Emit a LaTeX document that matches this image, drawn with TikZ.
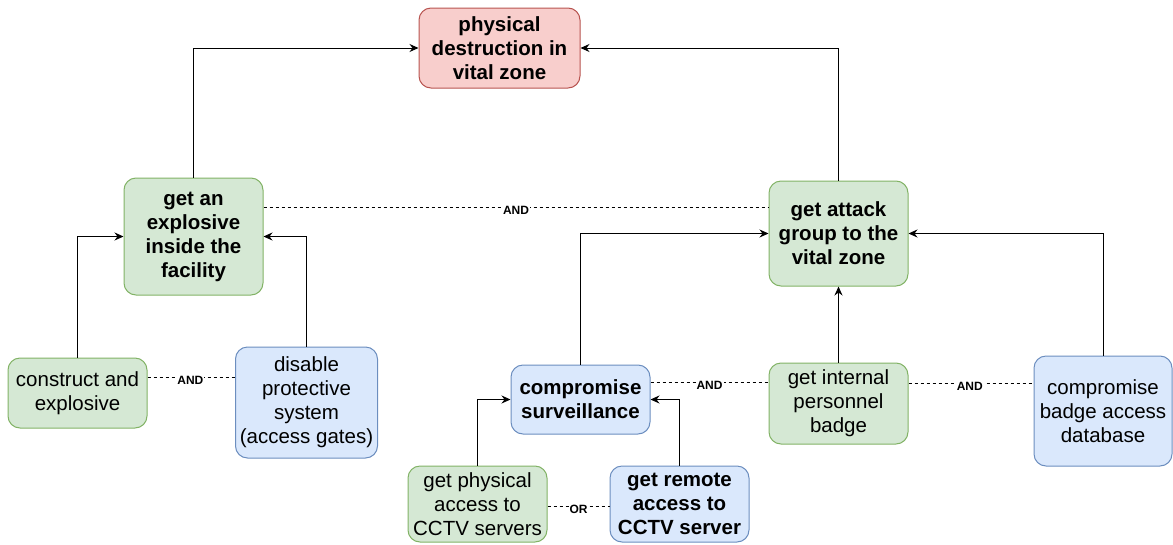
\documentclass[tikz,border=0pt]{standalone}
\usepackage{fontspec}
\setmainfont{Liberation Sans}
\usetikzlibrary{arrows.meta,calc}
\definecolor{gfill}{HTML}{D5E8D4}
\definecolor{gline}{HTML}{82B366}
\definecolor{bfill}{HTML}{DAE8FC}
\definecolor{bline}{HTML}{6C8EBF}
\definecolor{rfill}{HTML}{F8CECC}
\definecolor{rline}{HTML}{B85450}
\tikzset{
  box/.style={draw, line width=1pt, rounded corners=12pt, align=center, inner sep=0pt,
    font=\fontsize{20.5}{24}\selectfont},
  gbox/.style={box, fill=gfill, draw=gline},
  bluebox/.style={box, fill=bfill, draw=bline},
  redbox/.style={box, fill=rfill, draw=rline},
  arr/.style={line width=1pt, -{Stealth[length=9pt,width=8pt,inset=3pt]}},
  dline/.style={line width=1pt, dash pattern=on 3pt off 3pt},
  lbl/.style={fill=white, inner sep=1pt, font=\fontsize{12}{14}\selectfont\bfseries, yshift=-3pt}
}
\begin{document}
\begin{tikzpicture}[x=1pt,y=-1pt]
\useasboundingbox (0,0) rectangle (1173,544);
\node[redbox, minimum width=161pt, minimum height=80pt] (top) at (499.5,48) {\bfseries physical\\\bfseries destruction in\\\bfseries vital zone};
\node[gbox, minimum width=139pt, minimum height=117pt] (expl) at (193.5,236.5) {\bfseries get an\\\bfseries explosive\\\bfseries inside the\\\bfseries facility};
\node[gbox, minimum width=139pt, minimum height=105pt] (attack) at (838.5,233.5) {\bfseries get attack\\\bfseries group to the\\\bfseries vital zone};
\node[gbox, minimum width=139pt, minimum height=70pt] (constr) at (77.5,393) {construct and\\explosive};
\node[bluebox, minimum width=142pt, minimum height=111pt] (disable) at (306.5,402.5) {disable\\protective\\system\\(access gates)};
\node[bluebox, minimum width=139pt, minimum height=69pt] (surv) at (580.5,399.5) {\bfseries compromise\\\bfseries surveillance};
\node[gbox, minimum width=139pt, minimum height=81pt] (badge) at (838.5,403.5) {get internal\\personnel\\badge};
\node[bluebox, minimum width=138pt, minimum height=110pt] (db) at (1103,411) {compromise\\badge access\\database};
\node[gbox, minimum width=139pt, minimum height=76pt] (phys) at (477.5,504) {get physical\\access to\\CCTV servers};
\node[bluebox, minimum width=139pt, minimum height=76pt] (remote) at (679.5,504) {\bfseries get remote\\\bfseries access to\\\bfseries CCTV server};

\draw[arr] (expl.north) |- (top.west);
\draw[arr] (attack.north) |- (top.east);
\draw[arr] (constr.north) |- (expl.west);
\draw[arr] (disable.north) |- (expl.east);
\draw[arr] (surv.north) |- (attack.west);
\draw[arr] (db.north) |- (attack.east);
\draw[arr] (badge.north) -- (attack.south);
\draw[arr] (phys.north) |- (surv.west);
\draw[arr] (remote.north) |- (surv.east);

\coordinate (d1) at ([yshift=29pt]expl.east);
\draw[dline] (d1) -- (d1 -| attack.west) node[lbl, pos=0.5] {AND};
\coordinate (d2) at ([yshift=16pt]constr.east);
\draw[dline] (d2) -- (d2 -| disable.west) node[lbl, pos=0.49] {AND};
\coordinate (d3) at ([yshift=17pt]surv.east);
\draw[dline] (d3) -- (d3 -| badge.west) node[lbl, pos=0.5] {AND};
\coordinate (d4) at ([yshift=20.5pt]badge.east);
\draw[dline] (d4) -- (d4 -| db.west) node[lbl, pos=0.49] {AND};
\coordinate (d5) at ([yshift=-2pt]phys.east);
\draw[dline] (d5) -- (d5 -| remote.west) node[lbl, pos=0.5] {OR};
\end{tikzpicture}
\end{document}
